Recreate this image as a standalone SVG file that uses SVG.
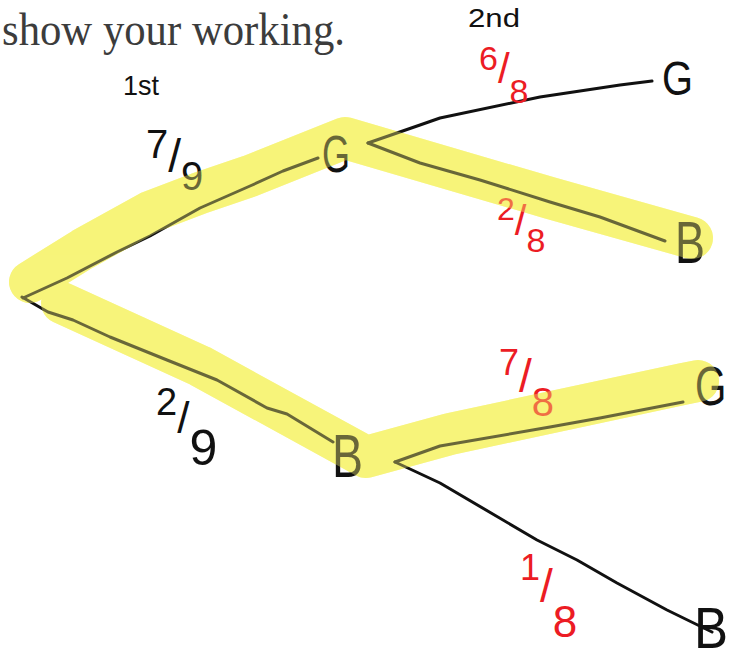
<svg xmlns="http://www.w3.org/2000/svg" xmlns:xlink="http://www.w3.org/1999/xlink" width="733" height="666" viewBox="0 0 733 666">
<style>
.hl{fill:none;stroke:#f7f47a;stroke-width:42;stroke-linecap:round;stroke-linejoin:round}
.ov{opacity:0.38}
.ln{fill:none;stroke:#111;stroke-width:3;stroke-linecap:round;stroke-linejoin:round}
.t{font-family:"Liberation Sans",Arial,sans-serif}
.blk{fill:#111}
.red{fill:#ec1c24}
.node{font-family:"Liberation Sans",Arial,sans-serif;fill:#111}
.title{font-family:"Liberation Serif","Times New Roman",serif;fill:#3c3c3c}
</style>
<defs>
<path id="hlA" d="M30,282 L83,249 L150,212 L200,193 L250,176 L345,138 L550,198 L692,238"/>
<path id="hlB" d="M62,303 L200,366 L366,457 L450,434 L683,384 L698,381"/>
</defs>
<rect width="733" height="666" fill="#fff"/>
<text class="title" x="2" y="45" font-size="46" textLength="343" lengthAdjust="spacingAndGlyphs">show your working.</text>

<g id="highlights">
<use xlink:href="#hlA" class="hl"/>
<use xlink:href="#hlB" class="hl"/>
</g>

<g id="connectors">
<path class="ln" d="M23,298 L67,278 L117,252 L150,236 L200,208 L250,186 L283,171 L318,158"/>
<path class="ln" d="M368,143 L420,125 L440,118 L540,97 L620,85 L652,81"/>
<path class="ln" d="M368,143 L420,163 L480,180 L550,202 L600,217 L665,241"/>
<path class="ln" d="M22,297 L48,312 L73,320 L110,337 L167,360 L217,380 L267,408 L287,414 L333,442"/>
<path class="ln" d="M395,462 L440,446 L550,427 L600,418 L683,402"/>
<path class="ln" d="M395,462 L440,483 L537,540 L577,560 L617,583 L667,610 L712,632"/>
</g>

<g id="node-G1"><text class="node" x="322" y="172" font-size="52" textLength="28" lengthAdjust="spacingAndGlyphs">G</text></g>
<g id="node-B1"><text class="node" x="332" y="477" font-size="62" textLength="31" lengthAdjust="spacingAndGlyphs">B</text></g>
<g id="node-GG"><text class="node" x="662" y="95" font-size="48" textLength="31" lengthAdjust="spacingAndGlyphs">G</text></g>
<g id="node-GB"><text class="node" x="675" y="263" font-size="60" textLength="30" lengthAdjust="spacingAndGlyphs">B</text></g>
<g id="node-BG"><text class="node" transform="translate(695,405) scale(0.72,1)" font-size="56">G</text></g>
<g id="node-BB"><text class="node" x="694" y="648" font-size="58" textLength="34" lengthAdjust="spacingAndGlyphs">B</text></g>

<g id="labels">
<text class="t blk" x="123" y="95" font-size="28" textLength="36" lengthAdjust="spacingAndGlyphs">1st</text>
<text class="t blk" x="468" y="27" font-size="26" textLength="52" lengthAdjust="spacingAndGlyphs">2nd</text>
<text class="t blk" x="146" y="158" font-size="40">7<tspan dy="14" font-size="46">/</tspan><tspan dy="18">9</tspan></text>
<text class="t blk" x="156" y="415" font-size="38">2<tspan dy="18" font-size="44">/</tspan><tspan dy="32" font-size="50">9</tspan></text>
<text class="t red" x="479" y="70" font-size="34">6<tspan dy="13" font-size="42">/</tspan><tspan dy="20">8</tspan></text>
<text class="t red" x="497" y="220" font-size="32">2<tspan dy="15" font-size="42">/</tspan><tspan dy="17" font-size="34">8</tspan></text>
<text class="t red" x="499" y="375" font-size="36">7<tspan dy="17" font-size="46">/</tspan><tspan dy="24" font-size="40">8</tspan></text>
<text class="t red" x="520" y="580" font-size="36">1<tspan dy="22" font-size="46">/</tspan><tspan dy="35" font-size="44">8</tspan></text>
</g>

<g id="highlight-overlay" class="ov">
<use xlink:href="#hlA" class="hl"/>
<use xlink:href="#hlB" class="hl"/>
</g>
</svg>
